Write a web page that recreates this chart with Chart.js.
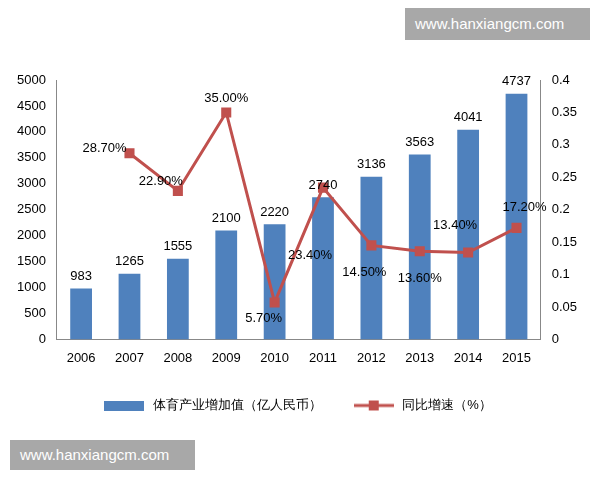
<!DOCTYPE html>
<html><head><meta charset="utf-8">
<script src="https://cdn.jsdelivr.net/npm/chart.js@4/dist/chart.umd.min.js"></script>
<style>
body{margin:0;background:#fff;width:600px;height:480px;overflow:hidden;position:relative;font-family:"Noto Sans CJK SC",Arial,sans-serif}
#wrap{position:absolute;left:0;top:60px;width:580px;height:362px}
.wm{position:absolute;background:#a8a8a8;color:#fff;font:15px Arial,"Liberation Sans",sans-serif;padding:6px 10px;}
</style></head><body>
<div id="wrap"><canvas id="c"></canvas></div>
<div class="wm" style="left:405px;top:8px;width:165px;height:20px;line-height:20px">www.hanxiangcm.com</div>
<div class="wm" style="left:10px;top:440px;width:165px;height:18px;line-height:18px">www.hanxiangcm.com</div>
<script>
const years=['2006','2007','2008','2009','2010','2011','2012','2013','2014','2015'];
const valueAdded=[983,1265,1555,2100,2220,2740,3136,3563,4041,4737];
const growth=[null,0.287,0.229,0.35,0.057,0.234,0.145,0.136,0.134,0.172];
const growthLabels=['','28.70%','22.90%','35.00%','5.70%','23.40%','14.50%','13.60%','13.40%','17.20%'];
const offs=[[0,0],[-25,-5],[-17,-9],[0,-14],[-11,16],[-13,68],[-7,27],[0,27],[-13,-27],[8,-20]];
const labelPlugin={id:'lbl',afterDatasetsDraw(ch){
  const ctx=ch.ctx;ctx.save();ctx.font='13px Arial, "Liberation Sans"';ctx.fillStyle='#000';ctx.textAlign='center';ctx.textBaseline='middle';
  ch.getDatasetMeta(1).data.forEach((b,i)=>ctx.fillText(valueAdded[i],b.x,b.y-12));
  ch.getDatasetMeta(0).data.forEach((p,i)=>{if(growth[i]==null)return;ctx.fillText(growthLabels[i],p.x+offs[i][0],p.y+offs[i][1]);});
  ctx.restore();}};
const lm=document.createElement('canvas');lm.width=40;lm.height=12;
{const g=lm.getContext('2d');g.strokeStyle='#C0504D';g.lineWidth=3;g.beginPath();g.moveTo(0,6);g.lineTo(40,6);g.stroke();g.fillStyle='#C0504D';g.fillRect(15,1,10,10);}
const bm=document.createElement('canvas');bm.width=40;bm.height=10;
{const g=bm.getContext('2d');g.fillStyle='#4F81BD';g.fillRect(0,0,40,10);}
new Chart(document.getElementById('c'),{
 data:{labels:years,datasets:[
  {type:'line',label:'同比增速（%）',data:growth,yAxisID:'y1',borderColor:'#C0504D',backgroundColor:'#C0504D',borderWidth:3,pointStyle:'rect',pointRadius:5,order:0},
  {type:'bar',label:'体育产业增加值（亿人民币）',data:valueAdded,yAxisID:'y',backgroundColor:'#4F81BD',categoryPercentage:0.75,barPercentage:0.6,order:1}
 ]},
 options:{responsive:true,maintainAspectRatio:false,animation:false,
  layout:{padding:{left:14,right:0,top:20}},
  plugins:{legend:{position:'bottom',labels:{color:'#000',font:{size:13},usePointStyle:true,pointStyleWidth:44,boxHeight:12,padding:30,
    generateLabels(ch){return [{text:'体育产业增加值（亿人民币）',pointStyle:bm,datasetIndex:1,fontColor:'#000'},{text:'同比增速（%）',pointStyle:lm,datasetIndex:0,fontColor:'#000'}];}}},tooltip:{enabled:false}},
  scales:{
   x:{grid:{display:false},border:{color:'#888'},ticks:{color:'#000',font:{size:13}}},
   y:{min:0,max:5000,ticks:{stepSize:500,color:'#000',font:{size:13},callback:v=>String(v)},grid:{display:false},border:{color:'#888'}},
   y1:{position:'right',min:0,max:0.4,ticks:{stepSize:0.05,color:'#000',font:{size:13},callback:v=>String(+v.toFixed(2))},grid:{display:false},border:{color:'#888'}}
  }}
 ,plugins:[labelPlugin]});
</script></body></html>
